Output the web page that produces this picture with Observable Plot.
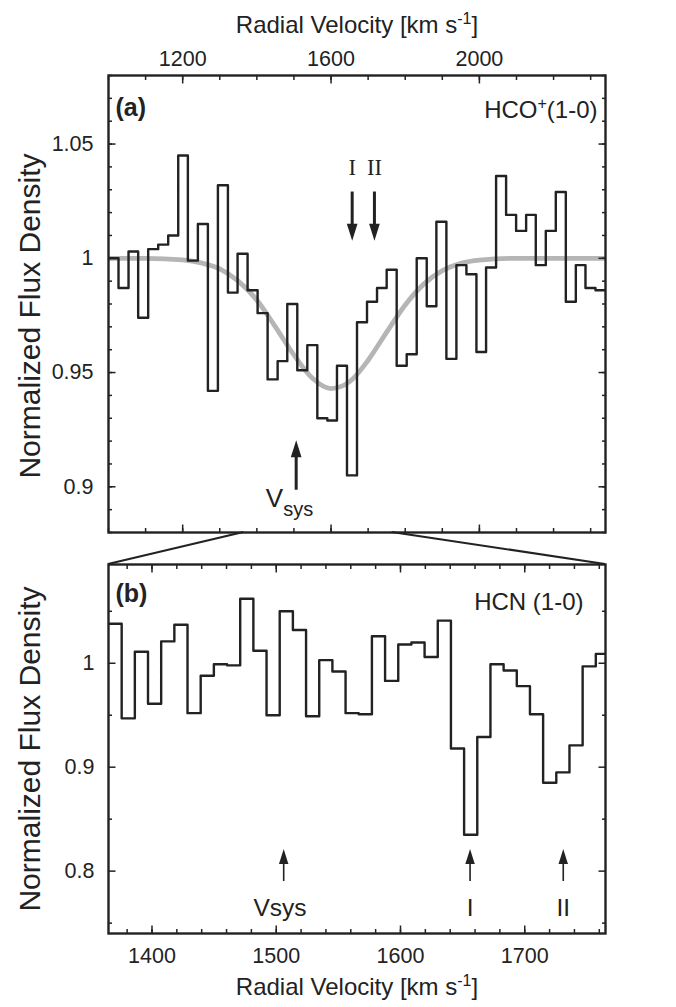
<!DOCTYPE html>
<html><head><meta charset="utf-8">
<script src="https://cdn.jsdelivr.net/npm/d3@7"></script>
<script src="https://cdn.jsdelivr.net/npm/@observablehq/plot@0.6"></script>
<style>
body{margin:0;background:#fff;}
#fig{position:relative;width:676px;height:1007px;font-family:"Liberation Sans",Arial,sans-serif;}
#fig svg{position:absolute;left:0;}
</style></head><body><div id="fig"></div>
<script>
// ---------- data ----------
// (a) HCO+(1-0): channel edges [km/s] and normalized flux per channel
const hcoVelocity = [1000,1027,1054,1080,1107,1134,1161,1188,1214,1241,1268,1295,1322,1348,1375,1402,1429,1456,1482,1509,1536,1563,1590,1616,1643,1670,1697,1724,1750,1777,1804,1831,1858,1884,1911,1938,1965,1992,2018,2045,2072,2099,2126,2152,2179,2206,2233,2260,2286,2313,2340];
const hcoFlux = [1.000,0.987,1.003,0.974,1.004,1.006,1.010,1.045,0.999,1.015,
                 0.942,1.032,0.985,1.002,0.986,0.976,0.947,0.955,0.980,0.951,
                 0.962,0.930,0.929,0.953,0.905,0.972,0.981,0.987,0.995,0.953,
                 0.958,1.000,0.979,1.016,0.956,0.997,0.993,0.959,0.996,1.036,
                 1.019,1.012,1.019,0.997,1.012,1.029,0.981,0.997,0.987,0.986];
// (a) fitted absorption profile (gray)
const fitVelocity = [1000,1100,1200,1250,1300,1350,1400,1450,1500,1550,1600,1650,1700,1750,1800,1850,1900,1950,2000,2100,2200,2340];
const fitFlux = [1.000,1.000,0.9993,0.998,0.9954,0.990,0.9817,0.970,0.9577,0.9475,0.943,0.946,0.9554,0.9677,0.9796,0.9887,0.9946,0.9978,0.9992,1.000,1.000,1.000];
// (b) HCN(1-0)
const hcnVelocity = [1365,1375.6,1386.2,1396.8,1407.4,1418,1428.6,1439.2,1449.8,1460.4,1471,1481.6,1492.2,1502.8,1513.4,1524,1534.6,1545.2,1555.8,1566.4,1577,1587.6,1598.2,1608.8,1619.4,1630,1640.6,1651.2,1661.8,1672.4,1683,1693.6,1704.2,1714.8,1725.4,1736,1746.6,1757.2,1767.8];
const hcnFlux = [1.038,0.947,1.011,0.961,1.021,1.037,0.952,0.988,0.999,0.998,
                 1.062,1.012,0.950,1.050,1.032,0.949,1.003,0.992,0.952,0.951,
                 1.026,0.983,1.018,1.020,1.006,1.041,0.918,0.835,0.929,0.999,
                 0.993,0.978,0.951,0.885,0.895,0.921,0.997,1.009];
// velocity markers
const vsysVelocity = 1506;
const hcoMarkers = [{label:"I", v:1657},{label:"II", v:1717}];
const hcnMarkers = [{label:"Vsys", v:1506, tv:1503},{label:"I", v:1656, tv:1656},{label:"II", v:1731, tv:1731}];
// axes
const hcoXDomain = [1000,2340], hcoYDomain = [0.88,1.08];
const hcnXDomain = [1365,1765], hcnYDomain = [0.74,1.095];
const hcoXTicks = [1200,1600,2000];
const hcoYTicks = [0.9,0.95,1,1.05];
const hcnXTicks = [1400,1500,1600,1700];
const hcnYTicks = [0.8,0.9,1];
const xTitle = "Radial Velocity [km s-1]";
const yTitle = "Normalized Flux Density";

// ---------- helpers ----------
const INK = "#222";
const FONT = "'Liberation Sans', Arial, sans-serif";
const steps = (edges, vals) => vals.map((f,i)=>({v:edges[i], f})).concat([{v:edges[vals.length], f:vals[vals.length-1]}]);
const triUp = {draw(c, size){const r=Math.sqrt(size/Math.PI); c.moveTo(0,-r); c.lineTo(0.63*r,r); c.lineTo(-0.63*r,r); c.closePath();}};
const triDown = {draw(c, size){const r=Math.sqrt(size/Math.PI); c.moveTo(0,r); c.lineTo(0.63*r,-r); c.lineTo(-0.63*r,-r); c.closePath();}};
const fmt = d => String(d);
function frameTicks(xMinor, xMajor, yMinor, yMajor){
  const o = {stroke: INK, strokeWidth: 1.5, fill: "none", label: null};
  return [
    Plot.axisX(xMinor, {...o, anchor:"top", tickSize:-4}),
    Plot.axisX(xMinor, {...o, anchor:"bottom", tickSize:-4}),
    Plot.axisX(xMajor, {...o, anchor:"top", tickSize:-7.5}),
    Plot.axisX(xMajor, {...o, anchor:"bottom", tickSize:-7.5}),
    Plot.axisY(yMinor, {...o, anchor:"left", tickSize:-4}),
    Plot.axisY(yMinor, {...o, anchor:"right", tickSize:-4}),
    Plot.axisY(yMajor, {...o, anchor:"left", tickSize:-7.5}),
    Plot.axisY(yMajor, {...o, anchor:"right", tickSize:-7.5})
  ];
}
function rich(svg, full, parts){
  d3.select(svg).selectAll("text").filter(function(){return this.textContent === full;}).each(function(){
    const t = d3.select(this); t.text(null);
    for (const p of parts){ const s = t.append("tspan").text(p.t); if (p.dy) s.attr("dy", p.dy); if (p.size) s.attr("font-size", p.size); }
  });
}

const fig = document.getElementById("fig");

// ---------- panel (a) ----------
const fitData = fitVelocity.map((v,i)=>({v, f:fitFlux[i]}));
const plotA = Plot.plot({
  width: 676, height: 545,
  marginLeft: 108, marginRight: 71, marginTop: 75, marginBottom: 13,
  x: {domain: hcoXDomain}, y: {domain: hcoYDomain},
  style: {fontFamily: FONT, fontSize: "21.5px", color: INK, background: "transparent", overflow: "visible"},
  marks: [
    Plot.line(fitData, {x:"v", y:"f", stroke:"#b5b5b5", strokeWidth:4.8, curve:"monotone-x", clip:true}),
    Plot.line(steps(hcoVelocity, hcoFlux), {x:"v", y:"f", curve:"step-after", stroke:INK, strokeWidth:2.4, clip:true}),
    ...frameTicks(d3.range(1000, 2341, 100), hcoXTicks, d3.range(0.88, 1.0801, 0.01), hcoYTicks),
    Plot.axisX(hcoXTicks, {anchor:"top", tickSize:0, tickPadding:10, tickFormat:fmt, label:null, fill:INK}),
    Plot.axisY(hcoYTicks, {anchor:"left", tickSize:0, tickPadding:15, tickFormat:fmt, label:null, fill:INK}),
    Plot.frame({stroke:INK, strokeWidth:2.4}),
    Plot.text([xTitle], {frameAnchor:"top", dy:-43, lineAnchor:"bottom", fontSize:24, fill:INK}),
    Plot.text([yTitle], {frameAnchor:"left", dx:-78, dy:12, rotate:-90, lineAnchor:"middle", textAnchor:"middle", fontSize:30, fill:INK}),
    Plot.text(["(a)"], {frameAnchor:"top-left", dx:7, dy:32, lineAnchor:"middle", fontSize:25, fontWeight:"bold", fill:INK}),
    Plot.text(["HCO+(1-0)"], {frameAnchor:"top-right", dx:-8, dy:35, lineAnchor:"middle", textAnchor:"end", fontSize:24, fill:INK}),
    // I / II arrows
    Plot.ruleX(hcoMarkers, {x:"v", y1:1.029, y2:1.013, stroke:INK, strokeWidth:3}),
    Plot.dot(hcoMarkers, {x:"v", y:1.0114, r:8.5, symbol:triDown, fill:INK, stroke:"none"}),
    Plot.text(hcoMarkers, {x:"v", y:1.0395, text:"label", lineAnchor:"middle", fontFamily:"'Liberation Serif','Times New Roman',serif", fontSize:22.5, fill:INK}),
    // Vsys arrow
    Plot.ruleX([vsysVelocity], {x:d=>d, y1:0.8985, y2:0.913, stroke:INK, strokeWidth:3}),
    Plot.dot([vsysVelocity], {x:d=>d, y:0.9166, r:8.5, symbol:triUp, fill:INK, stroke:"none"}),
    Plot.text([vsysVelocity], {x:d=>d, y:0.891, text:()=>"V", dx:-13, textAnchor:"end", lineAnchor:"bottom", fontSize:26, fill:INK}),
    Plot.text([vsysVelocity], {x:d=>d, y:0.8872, text:()=>"sys", dx:-13, textAnchor:"start", lineAnchor:"bottom", fontSize:20, fill:INK})
  ]
});
plotA.style.top = "0px";
fig.appendChild(plotA);

// ---------- panel (b) ----------
const plotB = Plot.plot({
  width: 676, height: 462,
  marginLeft: 108, marginRight: 71, marginTop: 19, marginBottom: 74,
  x: {domain: hcnXDomain}, y: {domain: hcnYDomain},
  style: {fontFamily: FONT, fontSize: "21.5px", color: INK, background: "transparent", overflow: "visible"},
  marks: [
    Plot.line(steps(hcnVelocity, hcnFlux), {x:"v", y:"f", curve:"step-after", stroke:INK, strokeWidth:2.4, clip:true}),
    ...frameTicks(d3.range(1380, 1761, 20), hcnXTicks, [0.75,0.85,0.95,1.05], hcnYTicks),
    Plot.axisX(hcnXTicks, {anchor:"bottom", tickSize:0, tickPadding:14, tickFormat:fmt, label:null, fill:INK}),
    Plot.axisY(hcnYTicks, {anchor:"left", tickSize:0, tickPadding:14, tickFormat:fmt, label:null, fill:INK}),
    Plot.frame({stroke:INK, strokeWidth:2.4}),
    Plot.text([xTitle], {frameAnchor:"bottom", dy:44, lineAnchor:"top", fontSize:24, fill:INK}),
    Plot.text([yTitle], {frameAnchor:"left", dx:-78, dy:0, rotate:-90, lineAnchor:"middle", textAnchor:"middle", fontSize:30, fill:INK}),
    Plot.text(["(b)"], {frameAnchor:"top-left", dx:7, dy:29, lineAnchor:"middle", fontSize:25, fontWeight:"bold", fill:INK}),
    Plot.text(["HCN (1-0)"], {frameAnchor:"top-right", dx:-22, dy:38, lineAnchor:"middle", textAnchor:"end", fontSize:24, fill:INK}),
    Plot.ruleX(hcnMarkers, {x:"v", y1:0.790, y2:0.807, stroke:INK, strokeWidth:1.6}),
    Plot.dot(hcnMarkers, {x:"v", y:0.814, r:7.5, symbol:triUp, fill:INK, stroke:"none"}),
    Plot.text(hcnMarkers, {x:"tv", y:0.764, text:"label", lineAnchor:"middle", fontSize:24.5, fill:INK})
  ]
});
const topB = 545;
plotB.style.top = topB + "px";
fig.appendChild(plotB);

// rich text (superscripts)
for (const svg of [plotA, plotB]) rich(svg, xTitle, [{t:"Radial Velocity [km s"},{t:"-1", dy:-9, size:"16px"},{t:"]", dy:9}]);
rich(plotA, "HCO+(1-0)", [{t:"HCO"},{t:"+", dy:-9, size:"16px"},{t:"(1-0)", dy:9}]);

// ---------- zoom connector lines (through both plots' scales) ----------
const xa = plotA.scale("x"), ya = plotA.scale("y"), xb = plotB.scale("x"), yb = plotB.scale("y");
const ov = d3.select(fig).append("svg").attr("width",676).attr("height",1007).style("top","0px").style("pointer-events","none");
for (const v of hcnXDomain){
  ov.append("line")
    .attr("x1", xa.apply(v)).attr("y1", ya.apply(hcoYDomain[0]))
    .attr("x2", xb.apply(v)).attr("y2", topB + yb.apply(hcnYDomain[1]))
    .attr("stroke", INK).attr("stroke-width", 2.2);
}
</script></body></html>
